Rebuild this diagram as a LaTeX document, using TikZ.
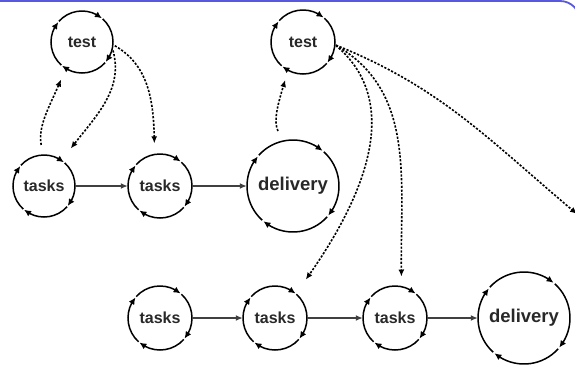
\documentclass[tikz,border=0pt]{standalone}
\usepackage{fontspec}
\setmainfont{Liberation Sans}
\usetikzlibrary{arrows.meta,bending}
\definecolor{framecol}{RGB}{88,88,222}
\definecolor{txt}{RGB}{40,40,40}
\tikzset{
  stage/.style={circle, inner sep=0pt, minimum size=#1, text=txt,
                font=\bfseries\fontsize{16}{16}\selectfont},
  bigstage/.style={stage=#1, font=\bfseries\fontsize{18.5}{18.5}\selectfont},
  cycarrow/.style={line width=1.5pt, -{Latex[length=7pt,width=6.5pt,flex]}},
  flow/.style={line width=2.2pt, draw=black!75, -{Latex[length=7pt,width=6pt]}},
  dep/.style={line width=1.6pt, dash pattern=on 2.2pt off 1.6pt,
              -{Latex[length=7pt,width=6pt]}},
}
% four clockwise arcs round a node, each ending in an arrowhead
\newcommand\cycle[2]{%
  \foreach \a in {140,50,-40,-130}{%
    \draw[cycarrow] ([shift={(\a+88:#2)}]#1.center) arc[start angle=\a+88, end angle=\a, radius=#2];
  }}
\begin{document}
\begin{tikzpicture}[x=1pt,y=1pt]
  \useasboundingbox (0,0) rectangle (575,-365);
  \begin{scope}
    \clip (0,0) rectangle (575,-365);
    \draw[framecol, line width=1.8pt, rounded corners=20pt] (-30,-1) rectangle (580,-420);
  \end{scope}

  % upper chain
  \node[stage=62pt] (te1) at (82,-42) {test};
  \node[stage=62pt] (ta1) at (44,-186) {tasks};
  \node[stage=64pt] (ta2) at (160,-186) {tasks};
  \node[bigstage=92pt] (de1) at (293,-186) {delivery};
  \node[stage=64pt] (te2) at (303,-42) {test};

  % lower chain
  \node[stage=64pt] (ta3) at (160,-318) {tasks};
  \node[stage=64pt] (ta4) at (275,-318) {tasks};
  \node[stage=64pt] (ta5) at (395,-318) {tasks};
  \node[bigstage=92pt] (de2) at (524,-318) {delivery};

  \coordinate (off) at (577,-214);

  \cycle{te1}{31pt}
  \cycle{ta1}{31pt}
  \cycle{ta2}{32pt}
  \cycle{de1}{46pt}
  \cycle{te2}{32pt}
  \cycle{ta3}{32pt}
  \cycle{ta4}{32pt}
  \cycle{ta5}{32pt}
  \cycle{de2}{46pt}

  % solid flow
  \draw[flow] (ta1) -- (ta2);
  \draw[flow] (ta2) -- (de1);
  \draw[flow] (ta3) -- (ta4);
  \draw[flow] (ta4) -- (ta5);
  \draw[flow] (ta5) -- (de2);

  % dotted feedback
  \draw[dep, shorten <=10pt, shorten >=12pt] (ta1.92) to[out=100, in=250] (te1.238);
  \draw[dep, shorten <=2pt, shorten >=15pt] (te1.-12) to[out=-75, in=55] (ta1.55);
  \draw[dep, shorten <=2pt, shorten >=11pt] (te1.-5) to[out=-30, in=90] (ta2.100);
  \draw[dep, shorten <=11pt, shorten >=10pt] (de1.103) to[out=115, in=255] (te2.242);
  \draw[dep, shorten <=1pt, shorten >=17pt] (te2.-5) to[out=-40, in=53] (ta4.50);
  \draw[dep, shorten <=1pt, shorten >=10pt] (te2.-5) to[out=-30, in=92] (ta5.78);
  \draw[dep, shorten <=1pt] (te2.-5) to[out=-22, in=140] (off);
\end{tikzpicture}
\end{document}
